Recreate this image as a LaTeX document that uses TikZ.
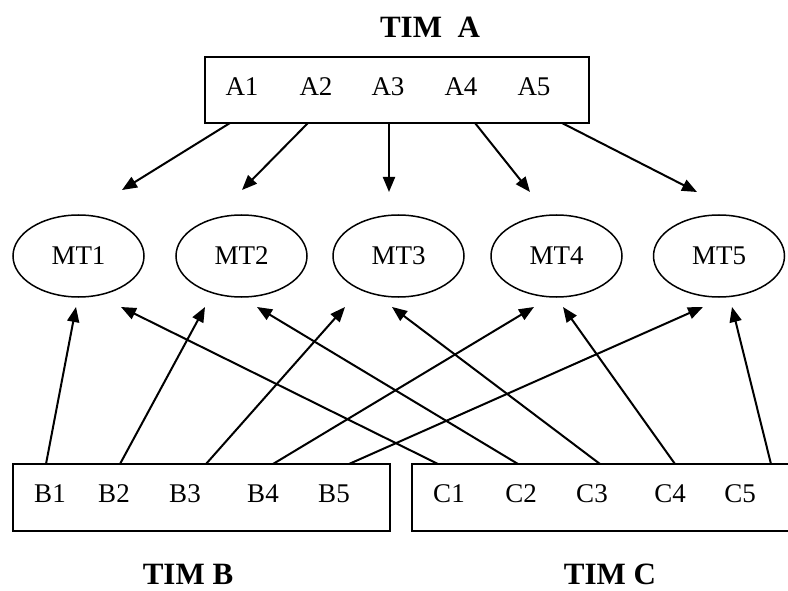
\documentclass[tikz,border=0pt]{standalone}
\usepackage{fontspec}
\setmainfont{Liberation Serif}
\usetikzlibrary{arrows.meta,shapes.geometric}
\begin{document}
\begin{tikzpicture}[x=1pt,y=-1pt,
  boxstyle/.style={draw,line width=1.5pt,inner sep=0pt},
  mtstyle/.style={draw,ellipse,line width=1.5pt,inner sep=0pt,minimum width=131pt,minimum height=82pt,font=\fontsize{27}{30}\selectfont},
  lbl/.style={anchor=base,inner sep=0pt,font=\fontsize{27}{30}\selectfont},
  ttl/.style={anchor=base,inner sep=0pt,font=\fontsize{31}{34}\selectfont\bfseries},
  conn/.style={line width=2pt,-{Triangle[length=15pt,width=12pt]}}]
\useasboundingbox (0,0) rectangle (788,591);
\clip (0,0) rectangle (788,591);
% titles
\node[ttl] (tA) at (430,38) {TIM~~A};
\node[ttl] (tB) at (188,584) {TIM B};
\node[ttl] (tC) at (610,584) {TIM C};
% boxes
\node[boxstyle,minimum width=384pt,minimum height=66pt] (boxA) at (397,90) {};
\node[boxstyle,minimum width=377pt,minimum height=67pt] (boxB) at (201.5,497.5) {};
\node[boxstyle,minimum width=400pt,minimum height=67pt] (boxC) at (612,497.5) {};
% labels
\node[lbl] (A1) at (242,96) {A1};
\node[lbl] (A2) at (316,96) {A2};
\node[lbl] (A3) at (388,96) {A3};
\node[lbl] (A4) at (461,96) {A4};
\node[lbl] (A5) at (534,96) {A5};
\node[lbl] (B1) at (50,502) {B1};
\node[lbl] (B2) at (114,502) {B2};
\node[lbl] (B3) at (185,502) {B3};
\node[lbl] (B4) at (263,502) {B4};
\node[lbl] (B5) at (334,502) {B5};
\node[lbl] (C1) at (449,502) {C1};
\node[lbl] (C2) at (521,502) {C2};
\node[lbl] (C3) at (592,502) {C3};
\node[lbl] (C4) at (670,502) {C4};
\node[lbl] (C5) at (740,502) {C5};
% ellipses
\node[mtstyle] (MT1) at (78.5,256) {MT1};
\node[mtstyle] (MT2) at (241.5,256) {MT2};
\node[mtstyle] (MT3) at (398.5,256) {MT3};
\node[mtstyle] (MT4) at (556.5,256) {MT4};
\node[mtstyle] (MT5) at (719,256) {MT5};
% connector ends
\coordinate (a1s) at (230,123);
\coordinate (a2s) at (308,123);
\coordinate (a3s) at (389,123);
\coordinate (a4s) at (475,123);
\coordinate (a5s) at (562,123);
\coordinate (m1t) at (122,190);
\coordinate (m2t) at (242,190);
\coordinate (m3t) at (389,192);
\coordinate (m4t) at (530,192);
\coordinate (m5t) at (697,192);
\coordinate (b1s) at (46,464);
\coordinate (b2s) at (120,464);
\coordinate (b3s) at (206,464);
\coordinate (b4s) at (273,464);
\coordinate (b5s) at (349,464);
\coordinate (c1s) at (438,464);
\coordinate (c2s) at (518,464);
\coordinate (c3s) at (600,464);
\coordinate (c4s) at (675,464);
\coordinate (c5s) at (771,464);
\coordinate (m1b) at (76,307);
\coordinate (m1c) at (121,307);
\coordinate (m2b) at (205,307);
\coordinate (m2c) at (257,307);
\coordinate (m3b) at (345,307);
\coordinate (m3c) at (392,307);
\coordinate (m4b) at (534,307);
\coordinate (m4c) at (563,307);
\coordinate (m5b) at (703,307);
\coordinate (m5c) at (732,307);
% connectors
\draw[conn] (a1s) -- (m1t);
\draw[conn] (a2s) -- (m2t);
\draw[conn] (a3s) -- (m3t);
\draw[conn] (a4s) -- (m4t);
\draw[conn] (a5s) -- (m5t);
\draw[conn] (b1s) -- (m1b);
\draw[conn] (b2s) -- (m2b);
\draw[conn] (b3s) -- (m3b);
\draw[conn] (b4s) -- (m4b);
\draw[conn] (b5s) -- (m5b);
\draw[conn] (c1s) -- (m1c);
\draw[conn] (c2s) -- (m2c);
\draw[conn] (c3s) -- (m3c);
\draw[conn] (c4s) -- (m4c);
\draw[conn] (c5s) -- (m5c);
\end{tikzpicture}
\end{document}
